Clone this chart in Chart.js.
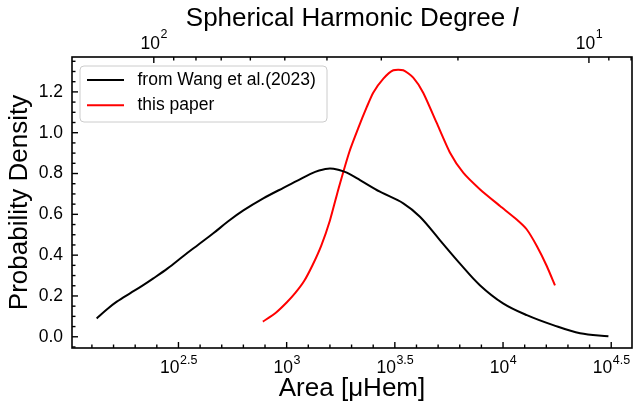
<!DOCTYPE html>
<html lang="en">
<head>
  <meta charset="UTF-8">
  <title>Area distribution</title>
  <script src="https://cdn.jsdelivr.net/npm/chart.js"></script>
  <style>
    html, body { margin: 0; padding: 0; background: #fff; }
    #wrap { width: 634px; height: 405px; }
  </style>
</head>
<body>
<div id="wrap"><canvas id="areaChart"></canvas></div>
<script>
  // x values are log10(Area / µHem), y values are probability density
  const wangLogArea = [2.122, 2.17, 2.215, 2.276, 2.33, 2.384, 2.45, 2.523, 2.59, 2.661, 2.73, 2.80, 2.892, 2.985,
    3.05, 3.108, 3.15, 3.20, 3.246, 3.278, 3.339, 3.431, 3.539, 3.616, 3.708, 3.80, 3.893, 4.0, 4.11, 4.232, 4.356, 4.487];
  const wangDensity = [0.090, 0.135, 0.172, 0.213, 0.248, 0.286, 0.335, 0.396, 0.45, 0.507, 0.566, 0.619, 0.678, 0.73,
    0.765, 0.797, 0.815, 0.825, 0.816, 0.804, 0.768, 0.711, 0.654, 0.588, 0.474, 0.36, 0.253, 0.164, 0.106, 0.057, 0.017, 0.003];

  const paperLogArea = [2.890, 2.95, 3.00, 3.04, 3.08, 3.12, 3.16, 3.20, 3.24, 3.29, 3.33, 3.37, 3.40, 3.447, 3.493,
    3.539, 3.585, 3.631, 3.693, 3.755, 3.816, 3.894, 3.986, 4.063, 4.109, 4.156, 4.202, 4.240];
  const paperDensity = [0.074, 0.118, 0.168, 0.215, 0.272, 0.352, 0.447, 0.57, 0.727, 0.907, 1.02, 1.125, 1.196, 1.265, 1.306,
    1.306, 1.27, 1.196, 1.049, 0.902, 0.804, 0.722, 0.641, 0.575, 0.527, 0.445, 0.347, 0.252];

  const seriesLabels = ['from Wang et al.(2023)', 'this paper'];
  const xTickExps = ['2.5', '3', '3.5', '4', '4.5'];
  const yTickLabels = ['0.0', '0.2', '0.4', '0.6', '0.8', '1.0', '1.2'];
  const topMajorDegrees = [100, 10];
  const topMinorDegrees = [90, 80, 70, 60, 50, 40, 30, 20, 9, 8];

  const FONT = "'Liberation Sans', Arial, sans-serif";

  function tick(ctx, x1, y1, x2, y2) {
    ctx.beginPath();
    ctx.moveTo(x1, y1);
    ctx.lineTo(x2, y2);
    ctx.stroke();
  }

  // "10" with a raised exponent, centred on x
  function drawPower(ctx, x, y, exp, rise) {
    ctx.font = '17.5px ' + FONT;
    const wBase = ctx.measureText('10').width;
    ctx.font = '12.5px ' + FONT;
    const wExp = ctx.measureText(exp).width;
    const left = x - (wBase + wExp) / 2;
    ctx.textAlign = 'left';
    ctx.textBaseline = 'middle';
    ctx.font = '17.5px ' + FONT;
    ctx.fillText('10', left, y);
    ctx.font = '12.5px ' + FONT;
    ctx.fillText(exp, left + wBase + 0.5, y - rise);
  }

  const axesDecor = {
    id: 'axesDecor',
    afterDraw(chart) {
      const {ctx, chartArea: a, scales} = chart;
      const x = scales.x, y = scales.y, top = scales.xTop;
      ctx.save();
      ctx.strokeStyle = '#000';
      ctx.fillStyle = '#000';
      ctx.lineWidth = 1.4;

      // bottom: ticks every 0.1 dex, labels every 0.5
      for (let k = Math.ceil(x.min * 10); k <= x.max * 10; k++) {
        const px = x.getPixelForValue(k / 10);
        tick(ctx, px, a.bottom, px, a.bottom - (k % 5 === 0 ? 6 : 3.5));
      }
      xTickExps.forEach(e => drawPower(ctx, x.getPixelForValue(parseFloat(e)), 368, e, 7));

      // left: minor every 0.05, major every 0.2
      for (let k = Math.ceil(y.min * 20); k <= y.max * 20; k++) {
        const py = y.getPixelForValue(k / 20);
        tick(ctx, a.left, py, a.left + (k % 4 === 0 ? 6 : 3.5), py);
      }
      ctx.font = '17.5px ' + FONT;
      ctx.textAlign = 'right';
      ctx.textBaseline = 'middle';
      yTickLabels.forEach(t => ctx.fillText(t, a.left - 9, y.getPixelForValue(parseFloat(t))));

      // top: spherical harmonic degree (log, reversed)
      topMinorDegrees.forEach(l => {
        const px = top.getPixelForValue(Math.log10(l));
        tick(ctx, px, a.top, px, a.top + 3.5);
      });
      topMajorDegrees.forEach(l => {
        const e = Math.log10(l);
        const px = top.getPixelForValue(e);
        tick(ctx, px, a.top, px, a.top + 6);
        drawPower(ctx, px, 44.5, String(Math.round(e)), 10);
      });

      // top title with italic l
      const t1 = 'Spherical Harmonic Degree ';
      ctx.font = '26px ' + FONT;
      const w1 = ctx.measureText(t1).width;
      ctx.font = 'italic 26px ' + FONT;
      const w2 = ctx.measureText('l').width;
      const tx = (a.left + a.right) / 2 - (w1 + w2) / 2;
      ctx.textAlign = 'left';
      ctx.textBaseline = 'middle';
      ctx.font = '26px ' + FONT;
      ctx.fillText(t1, tx, 19);
      ctx.font = 'italic 26px ' + FONT;
      ctx.fillText('l', tx + w1, 19);

      // legend
      const bx = a.left + 8, by = a.top + 9, bw = 247, bh = 56;
      ctx.beginPath();
      ctx.roundRect(bx, by, bw, bh, 4);
      ctx.fillStyle = 'rgba(255,255,255,0.8)';
      ctx.fill();
      ctx.strokeStyle = '#cccccc';
      ctx.lineWidth = 1;
      ctx.stroke();
      ctx.font = '17.5px ' + FONT;
      chart.data.datasets.forEach((ds, i) => {
        const ly = by + 14 + i * 25.3;
        ctx.strokeStyle = ds.borderColor;
        ctx.lineWidth = 2;
        tick(ctx, bx + 7, ly, bx + 44, ly);
        ctx.fillStyle = '#000';
        ctx.fillText(ds.label, bx + 57.5, ly);
      });

      // frame
      ctx.strokeStyle = '#000';
      ctx.lineWidth = 1.6;
      ctx.strokeRect(a.left, a.top, a.right - a.left, a.bottom - a.top);
      ctx.restore();
    }
  };

  new Chart(document.getElementById('areaChart'), {
    type: 'line',
    data: {
      datasets: [{
        label: seriesLabels[0],
        data: wangLogArea.map((v, i) => ({x: v, y: wangDensity[i]})),
        borderColor: '#000000',
        borderWidth: 2,
        pointRadius: 0,
        tension: 0.35,
        fill: false
      }, {
        label: seriesLabels[1],
        data: paperLogArea.map((v, i) => ({x: v, y: paperDensity[i]})),
        borderColor: '#ff0000',
        borderWidth: 2,
        pointRadius: 0,
        tension: 0.2,
        fill: false
      }]
    },
    options: {
      responsive: true,
      maintainAspectRatio: false,
      animation: false,
      layout: { padding: { right: 2 } },
      plugins: { legend: { display: false }, tooltip: { enabled: false } },
      scales: {
        x: {
          type: 'linear', position: 'bottom', min: 2.008, max: 4.596,
          grid: { display: false }, border: { display: false }, ticks: { display: false },
          title: { display: true, text: 'Area [μHem]', color: '#000', font: { family: FONT, size: 26 }, padding: { top: 0, bottom: 1 } },
          afterFit(s) { s.height = 57; }
        },
        xTop: {
          type: 'linear', position: 'top', reverse: true, min: 0.901, max: 2.188,
          grid: { display: false }, border: { display: false }, ticks: { display: false },
          afterFit(s) { s.height = 57; }
        },
        y: {
          min: -0.055, max: 1.371,
          grid: { display: false }, border: { display: false }, ticks: { display: false },
          title: { display: true, text: 'Probability Density', color: '#000', font: { family: FONT, size: 26 }, padding: { top: 4, bottom: 0 } },
          afterFit(s) { s.width = 72; }
        }
      }
    },
    plugins: [axesDecor]
  });
</script>
</body>
</html>
